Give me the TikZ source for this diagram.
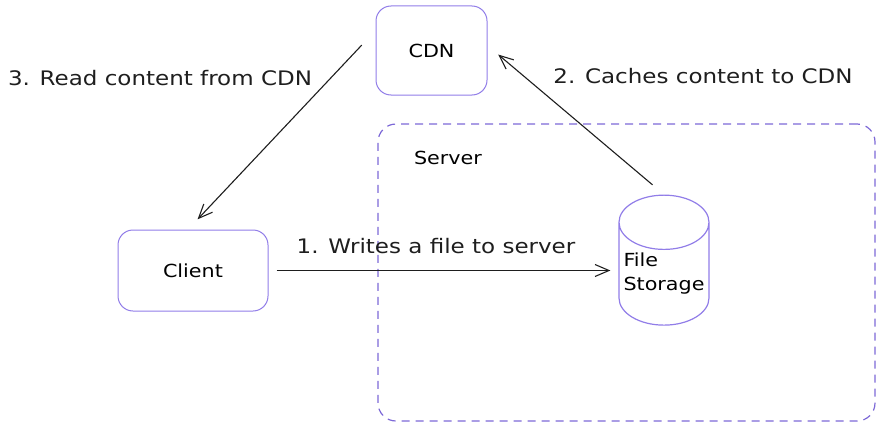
\documentclass[tikz,border=0pt]{standalone}
\usepackage{fontspec}
\setmainfont[FakeStretch=1.15]{DejaVu Sans}
\usepackage{xcolor}
\usepackage{tikz}
\usetikzlibrary{positioning}
\usetikzlibrary{shapes,arrows.meta}
\definecolor{boxline}{RGB}{145,125,232}
\definecolor{dashline}{RGB}{125,105,215}
\definecolor{ink}{RGB}{30,30,30}
\tikzset{%
  block/.style    = {draw=boxline, line width=1pt, rectangle, rounded corners=15pt,
    font=\fontsize{18}{20}\selectfont},
  store/.style    = {draw=boxline, line width=1.2pt, cylinder, shape border rotate=90,
    aspect=0.67, minimum width=90pt, minimum height=124pt, align=left, inner sep=0pt,
    font=\fontsize{18}{24}\selectfont}, % Storage
  group/.style    = {draw=dashline, line width=1.2pt, dash pattern=on 8pt off 6pt,
    rounded corners=18pt, rectangle}, % Server area
  steptext/.style = {font=\fontsize{20}{22}\selectfont, text=ink}, % Step text
  link/.style     = {->, draw=ink, line width=1.1pt}
}

\begin{document}
\begin{tikzpicture}[x=1pt, y=-1pt, >={Straight Barb[length=14pt, width=12pt]}]
  \useasboundingbox (0,0) rectangle (880,428);

	\draw node at (626.5,272.5) [group, minimum width=497pt, minimum height=297pt] (server) {};
	\draw node at (448,158) [font=\fontsize{18}{20}\selectfont] (servername) {Server};

	\draw node at (431.5,50.5) [block, minimum width=111pt, minimum height=89pt] (cdn) {CDN};
	\draw node at (193,270.5) [block, minimum width=150pt, minimum height=81pt] (client) {Client};
	\draw node at (664,274) [store] (storage)
	  {\raisebox{18pt}{\begin{tabular}{@{}l@{}}File\\Storage\end{tabular}}};

  \draw[link, shorten >=8pt, shorten <=8pt] (client.east) -- (client.east -| storage.west);
  \draw[link, shorten >=14pt, shorten <=15pt] (storage.north) -- ([yshift=5pt]cdn.east);
  \draw[link, shorten >=14pt, shorten <=20pt] ([yshift=20pt]cdn.west) -- ([xshift=-5pt]client.north);

	\draw node at (436,246) [steptext] (writes) {1. Writes a file to server};
	\draw node at (703,76) [steptext] (caches) {2. Caches content to CDN};
	\draw node at (160,78) [steptext] (reads) {3. Read content from CDN};

  \end{tikzpicture}
\end{document}
